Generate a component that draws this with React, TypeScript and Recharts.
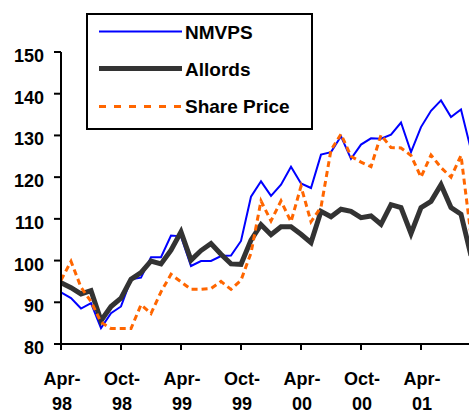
import React from 'react';
import { LineChart, Line, XAxis, YAxis, Legend } from 'recharts';

// monthly index values from Apr-98
const months = Array.from({ length: 42 }, (_, i) => i);

const nmvps = [
  92.4, 91.0, 88.5, 89.8, 83.8, 87.4, 89.0, 95.5, 95.9, 100.8, 100.8, 106.0,
  105.8, 98.7, 99.9, 99.9, 101.1, 101.2, 104.7, 115.3, 119.0, 115.5, 118.2, 122.5,
  118.5, 117.4, 125.4, 126.0, 129.8, 124.4, 127.8, 129.3, 129.2, 130.2, 133.1, 126.0,
  132.0, 135.9, 138.4, 134.4, 136.2, 126.5,
];

const allords = [
  94.7, 93.5, 92.0, 92.8, 85.6, 89.0, 91.0, 95.5, 97.1, 99.9, 99.2, 102.5,
  106.9, 100.1, 102.4, 104.1, 101.5, 99.2, 99.1, 104.9, 108.6, 106.2, 108.1, 108.1,
  106.3, 104.3, 111.8, 110.5, 112.3, 111.8, 110.3, 110.7, 108.7, 113.4, 112.7, 106.5,
  112.7, 114.2, 118.2, 112.7, 111.1, 101.2,
];

const sharePrice = [
  95.3, 99.8, 93.6, 90.2, 85.2, 83.7, 83.7, 83.7, 89.4, 87.3, 92.5, 96.7,
  94.9, 93.1, 93.1, 93.3, 95.0, 93.1, 95.3, 101.8, 114.3, 109.5, 114.3, 109.3,
  117.8, 109.3, 112.8, 126.5, 130.3, 125.0, 123.6, 122.5, 130.1, 127.1, 127.0, 125.2,
  120.0, 125.3, 122.3, 120.0, 125.2, 106.0,
];

const xTicks = [0, 6, 12, 18, 24, 30, 36];
const xTickLabels = [
  ['Apr-', '98'],
  ['Oct-', '98'],
  ['Apr-', '99'],
  ['Oct-', '99'],
  ['Apr-', '00'],
  ['Oct-', '00'],
  ['Apr-', '01'],
];
const yTicks = [80, 90, 100, 110, 120, 130, 140, 150];

const data = months.map((m) => ({
  m,
  nmvps: nmvps[m],
  allords: allords[m],
  share: sharePrice[m],
}));

const font = '"Liberation Sans", Arial, Helvetica, sans-serif';

const XTick = (props: any) => {
  const { x, y, payload } = props;
  const idx = xTicks.indexOf(payload.value);
  const lines = xTickLabels[idx] || ['', ''];
  return (
    <text y={y + 33} textAnchor="middle" fontFamily={font} fontWeight="bold" fontSize={18} fill="#000">
      <tspan x={x + 1}>{lines[0]}</tspan>
      <tspan x={x + 1} dy={25}>{lines[1]}</tspan>
    </text>
  );
};

const YTick = (props: any) => {
  const { x, y, payload } = props;
  return (
    <text x={x} y={y + 10} textAnchor="end" fontFamily={font} fontWeight="bold" fontSize={18} fill="#000">
      {payload.value}
    </text>
  );
};

const LegendBox = () => (
  <svg width={227} height={117}>
    <rect x={1} y={1} width={225} height={115} fill="#fff" stroke="#000" strokeWidth={2} />
    <line x1={13} x2={96} y1={18.5} y2={18.5} stroke="#0000ff" strokeWidth={2} />
    <text x={99} y={26} fontFamily={font} fontWeight="bold" fontSize={19} fill="#000">NMVPS</text>
    <line x1={13} x2={96} y1={55.5} y2={55.5} stroke="#333333" strokeWidth={5} />
    <text x={99} y={63} fontFamily={font} fontWeight="bold" fontSize={19} fill="#000">Allords</text>
    <line x1={13} x2={96} y1={93.5} y2={93.5} stroke="#ff6600" strokeWidth={3} strokeDasharray="7 8" />
    <text x={99} y={100} fontFamily={font} fontWeight="bold" fontSize={19} fill="#000">Share Price</text>
  </svg>
);

export default function App() {
  return (
    <div style={{ position: 'absolute', left: 0, top: 0, width: 469, height: 414, background: '#fff' }}>
      <LineChart width={469} height={414} data={data} margin={{ top: 52, right: 0, bottom: 0, left: 0 }}>
        <XAxis
          dataKey="m"
          type="number"
          domain={[0, 40.8]}
          allowDataOverflow
          ticks={xTicks}
          tick={<XTick />}
          tickSize={6}
          tickMargin={2}
          height={70}
          axisLine={{ stroke: '#000', strokeWidth: 2 }}
          tickLine={{ stroke: '#000', strokeWidth: 2 }}
        />
        <YAxis
          type="number"
          domain={[80, 150]}
          ticks={yTicks}
          tick={<YTick />}
          tickSize={7}
          tickMargin={10}
          width={61}
          axisLine={{ stroke: '#000', strokeWidth: 2 }}
          tickLine={{ stroke: '#000', strokeWidth: 2 }}
        />
        <Legend
          layout="vertical"
          align="center"
          verticalAlign="middle"
          content={<LegendBox />}
          wrapperStyle={{ left: 86, top: 13, width: 227, height: 117 }}
        />
        <Line type="linear" dataKey="nmvps" name="NMVPS" stroke="#0000ff" strokeWidth={2} dot={false} isAnimationActive={false} />
        <Line type="linear" dataKey="allords" name="Allords" stroke="#333333" strokeWidth={5} strokeLinejoin="miter" dot={false} isAnimationActive={false} />
        <Line type="linear" dataKey="share" name="Share Price" stroke="#ff6600" strokeWidth={3} strokeDasharray="6 4" dot={false} isAnimationActive={false} />
      </LineChart>
    </div>
  );
}
